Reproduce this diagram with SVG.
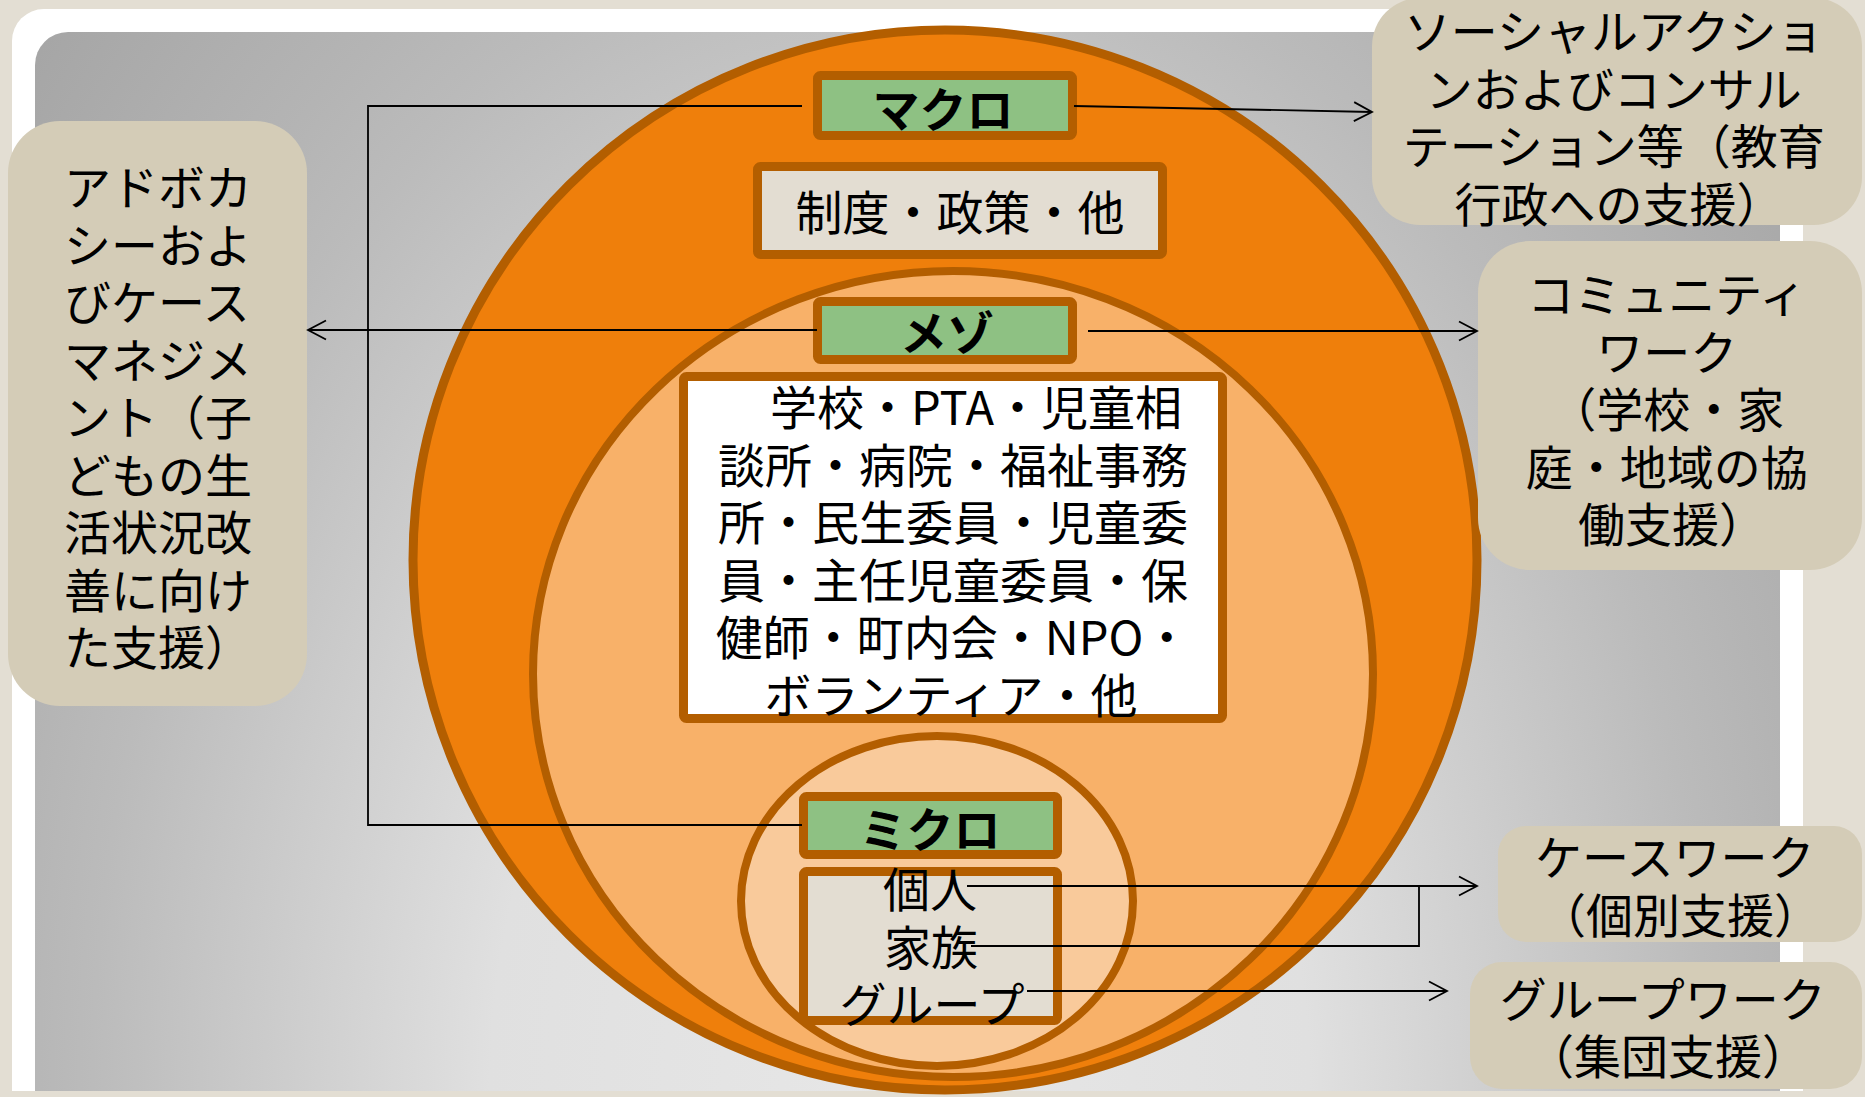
<svg xmlns="http://www.w3.org/2000/svg" width="1865" height="1097" viewBox="0 0 1865 1097">
<defs>
<radialGradient id="bg" gradientUnits="userSpaceOnUse" cx="900" cy="1091" r="1170" gradientTransform="translate(900,1091) scale(1,1.444) translate(-900,-1091)">
<stop offset="0" stop-color="#E7E7E7"/>
<stop offset="0.35" stop-color="#E0E0E0"/>
<stop offset="0.69" stop-color="#BBBBBB"/>
<stop offset="0.77" stop-color="#B4B4B4"/>
<stop offset="1" stop-color="#A3A3A3"/>
</radialGradient>
<marker id="arr" markerUnits="userSpaceOnUse" markerWidth="24" markerHeight="24" refX="20" refY="10" orient="auto" overflow="visible">
<path d="M2,0.5 L20,10 L2,19.5" fill="none" stroke="#000" stroke-width="1.8"/>
</marker>
<style>
.t { font-family: "Noto Sans CJK JP", "Noto Sans", sans-serif; font-size: 47px; fill: #000; }
.b { font-weight: bold; }
.m { text-anchor: middle; }
.side { fill: #D4CCB7; }
.lvl { fill: #8EC183; stroke: #B35E00; stroke-width: 9; stroke-linejoin: round; }
.box { stroke: #B35E00; stroke-width: 9; stroke-linejoin: round; }
.ring { stroke: #B35E00; }
.conn { stroke: #000; stroke-width: 1.8; fill: none; }
</style>
</defs>

<!-- background -->
<rect x="0" y="0" width="1865" height="1097" fill="#E3DED3"/>
<path d="M12,41 A32,32 0 0 1 44,9 H1803 V1091 H12 Z" fill="#FFFFFF"/>
<path d="M35,65 A33,33 0 0 1 68,32 H1780 V1091 H35 Z" fill="url(#bg)"/>

<!-- rings -->
<g id="ring-macro"><ellipse cx="945" cy="560" rx="532" ry="530" fill="#EF7F0B" class="ring" stroke-width="9"/></g>
<g id="ring-meso"><ellipse cx="953" cy="674" rx="420" ry="403" fill="#F8B169" class="ring" stroke-width="8"/></g>
<g id="ring-micro"><ellipse cx="937" cy="901" rx="196" ry="165" fill="#F9CA9B" class="ring" stroke-width="8"/></g>

<!-- left side box -->
<g id="advocacy">
<rect x="8" y="121" width="299" height="585" rx="52" class="side"/>
<text class="t" x="64" y="205">
<tspan x="64">アドボカ</tspan>
<tspan x="64" dy="57.5">シーおよ</tspan>
<tspan x="64" dy="57.5">びケース</tspan>
<tspan x="64" dy="57.5">マネジメ</tspan>
<tspan x="64" dy="57.5">ント（子</tspan>
<tspan x="64" dy="57.5">どもの生</tspan>
<tspan x="64" dy="57.5">活状況改</tspan>
<tspan x="64" dy="57.5">善に向け</tspan>
<tspan x="64" dy="57.5">た支援）</tspan>
</text>
</g>

<!-- right side boxes -->
<g id="social-action">
<rect x="1372" y="-2" width="490" height="227" rx="48" class="side"/>
<text class="t m" x="1619" y="49">
<tspan x="1619">ソーシャルアクショ</tspan>
<tspan x="1619" dy="57.5">ンおよびコンサル</tspan>
<tspan x="1619" dy="57.5">テーション等（教育</tspan>
<tspan x="1619" dy="57.5">行政への支援）</tspan>
</text>
</g>

<g id="community-work">
<rect x="1478" y="241" width="384" height="329" rx="52" class="side"/>
<text class="t m" x="1672" y="312">
<tspan x="1672">コミュニティ</tspan>
<tspan x="1672" dy="57.5">ワーク</tspan>
<tspan x="1672" dy="57.5">（学校・家</tspan>
<tspan x="1672" dy="57.5">庭・地域の協</tspan>
<tspan x="1672" dy="57.5">働支援）</tspan>
</text>
</g>

<g id="case-work">
<rect x="1498" y="826" width="364" height="116" rx="28" class="side"/>
<text class="t m" x="1680" y="875">
<tspan x="1680">ケースワーク</tspan>
<tspan x="1680" dy="58">（個別支援）</tspan>
</text>
</g>

<g id="group-work">
<rect x="1470" y="962" width="392" height="127" rx="32" class="side"/>
<text class="t m" x="1668" y="1017">
<tspan x="1668">グループワーク</tspan>
<tspan x="1668" dy="57">（集団支援）</tspan>
</text>
</g>

<!-- level nodes -->
<g id="macro">
<rect x="817.5" y="75.5" width="255" height="60" rx="3" class="lvl"/>
<text class="t b m" x="943" y="127">マクロ</text>
</g>

<g id="macro-content">
<rect x="757.5" y="166.5" width="405" height="88" rx="3" fill="#E3DDD2" class="box"/>
<text class="t m" x="960" y="230">制度・政策・他</text>
</g>

<g id="meso">
<rect x="817.5" y="301.5" width="255" height="58" rx="3" class="lvl"/>
<text class="t b m" x="947" y="350">メゾ</text>
</g>

<g id="meso-content">
<rect x="683.5" y="376.5" width="539" height="342" rx="3" fill="#FFFFFF" class="box"/>
<text class="t m" x="976" y="425">学校・PTA・児童相</text>
<text class="t m" x="953" y="482.5">談所・病院・福祉事務</text>
<text class="t m" x="953" y="540">所・民生委員・児童委</text>
<text class="t m" x="953" y="597.5">員・主任児童委員・保</text>
<text class="t m" x="953" y="655">健師・町内会・NPO・</text>
<text class="t m" x="951" y="712.5">ボランティア・他</text>
</g>

<g id="micro">
<rect x="803.5" y="796.5" width="254" height="58" rx="3" class="lvl"/>
<text class="t b m" x="930" y="847">ミクロ</text>
</g>

<g id="micro-content">
<rect x="803.5" y="871.5" width="254" height="149" rx="3" fill="#E3DDD2" class="box"/>
<text class="t m" x="930" y="907">個人</text>
<text class="t m" x="931" y="965">家族</text>
<text class="t m" x="932" y="1022">グループ</text>
</g>

<!-- connectors -->
<g id="connectors">
<polyline class="conn" points="802,106 368,106 368,825 802,825"/>
<line class="conn" x1="1074" y1="106" x2="1372" y2="112" marker-end="url(#arr)"/>
<line class="conn" x1="817" y1="330" x2="308" y2="330" marker-end="url(#arr)"/>
<line class="conn" x1="1088" y1="331" x2="1477" y2="331" marker-end="url(#arr)"/>
<line class="conn" x1="967" y1="886" x2="1477" y2="886" marker-end="url(#arr)"/>
<polyline class="conn" points="971,946 1419,946 1419,886"/>
<line class="conn" x1="1027" y1="991" x2="1447" y2="991" marker-end="url(#arr)"/>
</g>
</svg>
